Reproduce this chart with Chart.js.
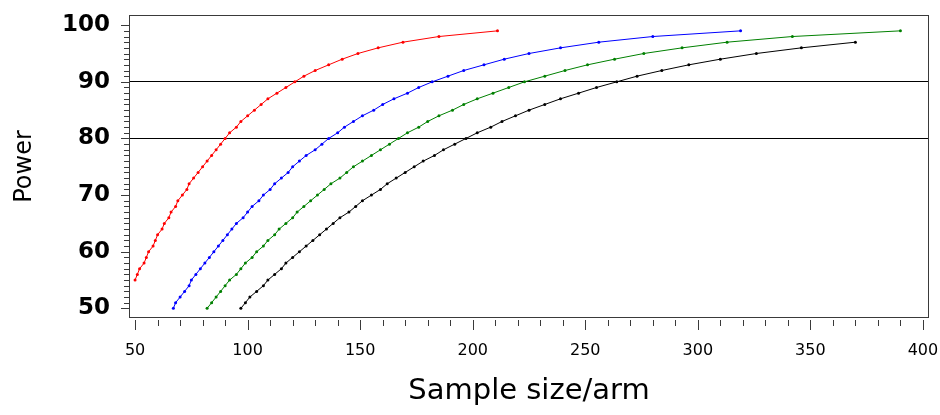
<!DOCTYPE html>
<html>
<head>
<meta charset="utf-8">
<script src="https://cdn.jsdelivr.net/npm/chart.js@4/dist/chart.umd.min.js"></script>
<style>
  html, body { margin: 0; padding: 0; background: #ffffff; }
  #wrap { width: 940px; height: 415px; }
</style>
</head>
<body>
<div id="wrap"><canvas id="c" width="940" height="415"></canvas></div>
<script>
// ---- Data ----
const powerRed = [55,56,57,58,59,60,61,62,63,64,65,66,67,68,69,70,71,72,73,74,75,76,77,78,79,80,81,82,83,84,85,86,87,88,89,90,91,92,93,94,95,96,97,98,99];
const sizeRed  = [50,51,52,54,55,56,58,59,60,62,63,65,66,68,69,71,73,74,76,78,80,82,84,86,88,90,92,95,97,100,103,106,109,113,117,121,125,130,136,142,149,158,169,185,211];

const powerBlue = [50,51,52,53,54,55,56,57,58,59,60,61,62,63,64,65,66,67,68,69,70,71,72,73,74,75,76,77,78,79,80,81,82,83,84,85,86,87,88,89,90,91,92,93,94,95,96,97,98,99];
const sizeBlue  = [67,68,70,72,74,75,77,79,81,83,85,87,89,91,93,95,98,100,102,105,107,110,112,115,118,120,123,126,130,133,136,140,143,147,151,156,160,165,171,176,182,189,196,205,214,225,239,256,280,319];

const powerGreen = [50,51,52,53,54,55,56,57,58,59,60,61,62,63,64,65,66,67,68,69,70,71,72,73,74,75,76,77,78,79,80,81,82,83,84,85,86,87,88,89,90,91,92,93,94,95,96,97,98,99];
const sizeGreen  = [82,84,86,88,90,92,95,97,99,102,104,107,109,112,114,117,120,122,125,128,131,134,137,141,144,147,151,155,159,163,167,171,176,180,185,191,196,202,209,216,223,232,241,251,263,276,293,313,342,390];

const powerBlack = [50,51,52,53,54,55,56,57,58,59,60,61,62,63,64,65,66,67,68,69,70,71,72,73,74,75,76,77,78,79,80,81,82,83,84,85,86,87,88,89,90,91,92,93,94,95,96,97];
const sizeBlack  = [97,99,101,104,107,109,112,115,117,120,123,126,129,132,135,138,141,145,148,151,155,159,162,166,170,174,178,183,187,192,197,202,208,213,219,225,232,239,247,255,264,273,284,296,310,326,346,370];

const xTickLabels = [50,100,150,200,250,300,350,400];
const xMinorTicks = [50,60,70,80,90,100,110,120,130,140,150,160,170,180,190,200,210,220,230,240,250,260,270,280,290,300,310,320,330,340,350,360,370,380,390,400];
const yTickLabels = [50,60,70,80,90,100];
const yMinorTicks = [50,51,52,53,54,55,56,57,58,59,60,61,62,63,64,65,66,67,68,69,70,71,72,73,74,75,76,77,78,79,80,81,82,83,84,85,86,87,88,89,90,91,92,93,94,95,96,97,98,99,100];
const refLines = [80, 90];

function pts(xs, ys) { return xs.map((v, i) => ({ x: v, y: ys[i] })); }
function ds(xs, ys, color) {
  return {
    data: pts(xs, ys),
    showLine: true,
    borderColor: color,
    backgroundColor: color,
    borderWidth: 1,
    pointRadius: 1.5,
    pointBorderWidth: 0,
    pointBackgroundColor: color,
    pointHoverRadius: 1.5,
    tension: 0
  };
}

function zeroPad(s) { s.paddingTop = 0; s.paddingBottom = 0; s.paddingLeft = 0; s.paddingRight = 0; }

const frameTicks = {
  id: 'frameTicks',
  afterDraw(chart) {
    const { ctx, chartArea: a, scales: { x, y } } = chart;
    ctx.save();
    ctx.strokeStyle = '#3a3a3a';
    ctx.lineWidth = 1;
    ctx.strokeRect(Math.round(a.left) + 0.5, Math.round(a.top) + 0.5,
                   Math.round(a.right - a.left) - 1, Math.round(a.bottom - a.top) - 1);
    ctx.beginPath();
    yMinorTicks.forEach(v => {
      const py = Math.round(y.getPixelForValue(v)) + 0.5;
      const len = (v % 10 === 0) ? 8 : 5;
      ctx.moveTo(a.left - len, py);
      ctx.lineTo(a.left, py);
    });
    xMinorTicks.forEach(v => {
      const px = Math.round(x.getPixelForValue(v)) + 0.5;
      const len = (v % 50 === 0) ? 10 : 6;
      ctx.moveTo(px, a.bottom + 2);
      ctx.lineTo(px, a.bottom + 2 + len);
    });
    ctx.stroke();
    ctx.restore();
  }
};

new Chart(document.getElementById('c'), {
  type: 'scatter',
  data: {
    datasets: [
      ds(sizeRed, powerRed, '#ff0000'),
      ds(sizeBlue, powerBlue, '#0000ff'),
      ds(sizeGreen, powerGreen, '#008000'),
      ds(sizeBlack, powerBlack, '#000000')
    ]
  },
  options: {
    responsive: false,
    animation: false,
    layout: { padding: { top: 15, right: 11, left: 0, bottom: 0 } },
    plugins: { legend: { display: false }, tooltip: { enabled: false } },
    scales: {
      x: {
        type: 'linear',
        min: 47.3,
        max: 402.7,
        afterBuildTicks: s => { s.ticks = xTickLabels.map(v => ({ value: v })); },
        afterFit: s => { s.height = 97; zeroPad(s); },
        grid: { display: false, drawTicks: false },
        border: { display: false },
        ticks: {
          padding: 23,
          color: '#000',
          maxRotation: 0,
          autoSkip: false,
          font: { family: 'DejaVu Sans', size: 16 }
        },
        title: {
          display: true,
          text: 'Sample size/arm',
          color: '#000',
          font: { family: 'DejaVu Sans', size: 29 },
          padding: { top: 0, bottom: 6 }
        }
      },
      y: {
        type: 'linear',
        min: 48.3,
        max: 101.8,
        afterBuildTicks: s => { s.ticks = yTickLabels.map(v => ({ value: v })); },
        afterFit: s => { s.width = 129; zeroPad(s); },
        grid: {
          drawTicks: false,
          lineWidth: 1,
          color: c => (c.tick && refLines.includes(c.tick.value)) ? '#000000' : 'rgba(0,0,0,0)'
        },
        border: { display: false },
        ticks: {
          padding: 19,
          color: '#000',
          autoSkip: false,
          font: { family: 'DejaVu Sans', size: 23, weight: 'bold' }
        },
        title: {
          display: true,
          text: 'Power',
          color: '#000',
          font: { family: 'DejaVu Sans', size: 24 },
          padding: { top: 10, bottom: 0 }
        }
      }
    }
  },
  plugins: [frameTicks]
});
</script>
</body>
</html>
